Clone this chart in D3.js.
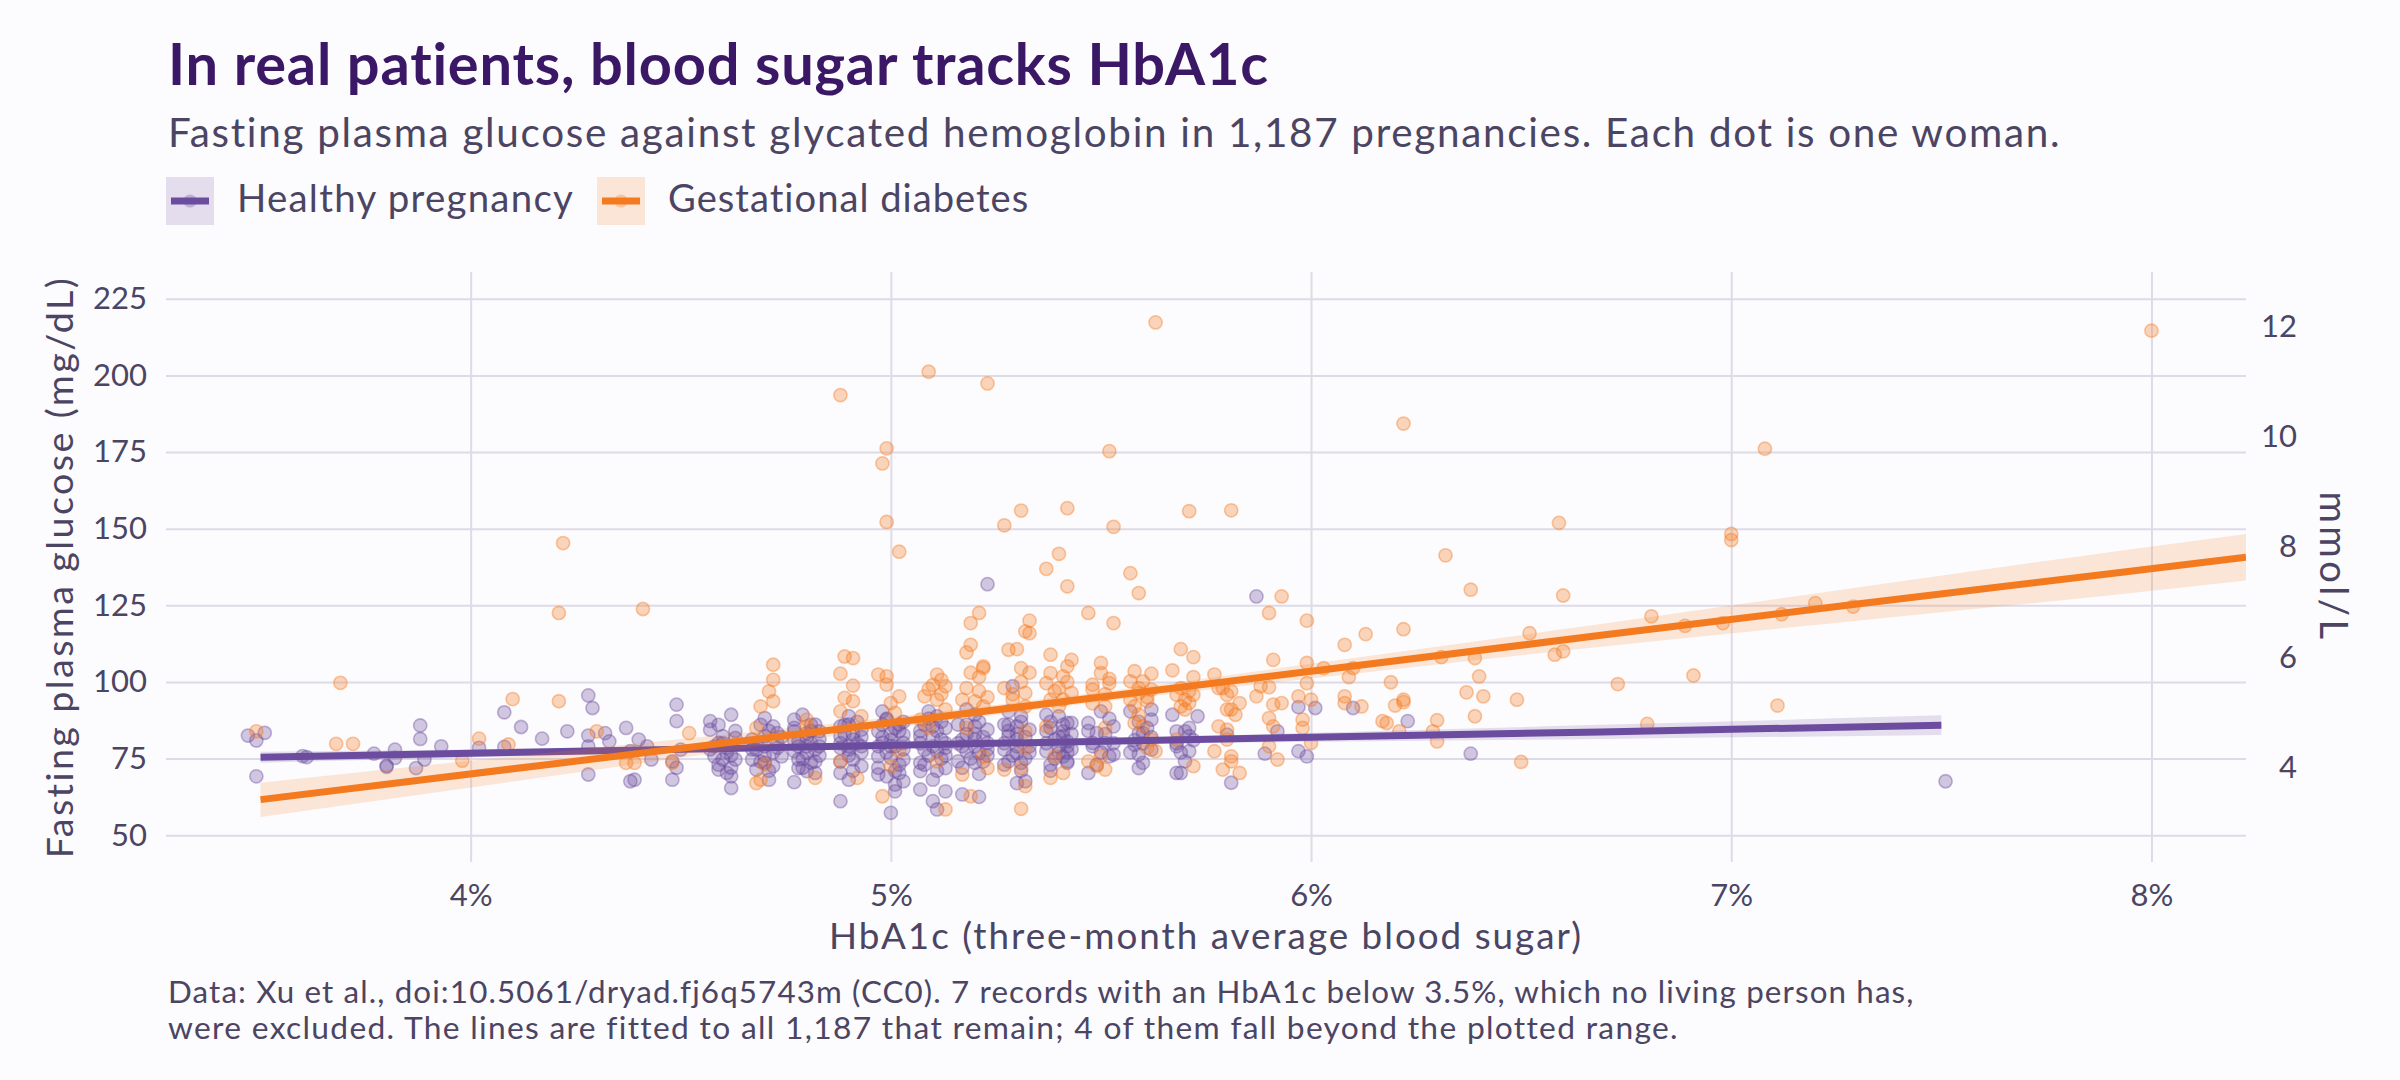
<!DOCTYPE html>
<html>
<head>
<meta charset="utf-8">
<script src="https://cdn.jsdelivr.net/npm/d3@7"></script>
<style>
  body { margin: 0; background: #fcfbfd; }
  svg { display: block; font-family: Lato, "Noto Sans", sans-serif; }
</style>
</head>
<body>
<svg id="chart" width="2400" height="1080"></svg>
<script>
// 1 - Data: [HbA1c %, fasting glucose mg/dL]
const xLimits = [3.5, 8];
const yLimits = [50, 225];
const xTicks = [4, 5, 6, 7, 8];
const yTicks = [50, 75, 100, 125, 150, 175, 200, 225];
const mmolTicks = [4, 6, 8, 10, 12];
const mgPerMmol = 18;

const groups = ["Healthy pregnancy", "Gestational diabetes"];

const healthyPoints = [
  [3.47,82.5],[3.51,83.4],[3.49,80.9],[3.49,69.2],[3.60,75.8],[3.61,75.5],[3.77,76.6],[3.82,77.9],[3.82,75.2],[3.80,72.7],
  [3.80,72.3],[3.88,85.8],[3.88,81.4],[3.89,74.7],[3.87,71.9],[3.93,79.0],[4.02,78.5],[4.08,78.8],[4.08,90.1],[4.12,85.3],[4.17,81.5],
  [4.28,95.6],[4.29,91.5],[4.23,83.9],[4.28,82.5],[4.32,83.3],[4.33,80.6],[4.28,79.0],[4.28,69.8],[4.37,85.0],[4.40,81.2],
  [4.43,74.7],[4.38,67.6],[4.39,68.1],[4.38,77.4],[4.42,79.0],[4.49,92.6],[4.49,87.2],[4.48,74.1],[4.49,72.0],[4.48,68.1],[4.50,77.9],
  [4.57,87.2],[4.62,89.3],[4.57,84.4],[4.60,82.3],[4.63,81.7],[4.59,80.1],[4.61,78.5],[4.58,75.7],[4.60,74.7],[4.63,74.7],
  [4.59,71.4],[4.61,70.3],[4.62,69.2],[4.62,65.4],[4.59,73.0],
  [4.70,88.2],[4.72,85.5],[4.67,81.2],[4.70,82.3],[4.73,83.3],[4.68,77.9],[4.70,79.0],[4.73,78.5],[4.67,74.7],[4.70,73.6],
  [4.72,72.5],[4.68,71.4],[4.71,68.1],[4.74,75.7],
  [4.77,87.7],[4.79,89.3],[4.82,86.1],[4.77,83.9],[4.80,83.3],[4.83,83.9],[4.78,80.6],[4.81,80.1],[4.83,81.2],[4.77,77.4],
  [4.80,76.8],[4.82,77.9],[4.78,74.7],[4.81,73.6],[4.78,71.9],[4.80,70.9],[4.82,70.3],[4.77,67.3],
  [4.90,88.8],[4.88,85.5],[4.90,86.1],[4.93,84.4],[4.88,82.3],[4.91,81.2],[4.88,78.5],[4.90,77.9],[4.93,79.0],[4.91,74.7],
  [4.93,72.5],[4.88,70.3],[4.90,68.1],[4.88,61.1],
  [4.98,90.4],[4.99,87.7],[5.02,86.1],[4.97,83.9],[5.00,83.3],[5.03,82.8],[4.98,80.1],[5.01,79.0],[5.03,80.1],[4.97,75.7],
  [5.00,75.2],[5.03,74.7],[4.97,69.8],[4.99,69.2],[5.02,70.3],[5.01,66.5],[5.03,67.6],[5.01,64.3],[5.00,57.3],
  [5.09,90.4],[5.11,88.8],[5.10,85.5],[5.13,85.0],[5.07,82.3],[5.12,81.2],[5.08,77.9],[5.11,77.4],[5.13,78.5],[5.07,73.6],
  [5.13,71.9],[5.07,70.9],[5.10,68.1],[5.07,64.9],[5.13,64.3],[5.10,61.1],[5.11,58.4],
  [5.18,91.0],[5.20,89.3],[5.16,86.1],[5.20,85.5],[5.23,84.4],[5.17,81.2],[5.20,81.2],[5.23,80.1],[5.18,77.4],[5.21,76.8],
  [5.16,74.1],[5.20,73.6],[5.17,63.3],[5.21,62.5],[5.23,131.9],
  [5.29,98.6],[5.28,90.4],[5.31,88.8],[5.27,86.1],[5.30,85.5],[5.33,84.4],[5.28,82.3],[5.30,81.2],[5.27,77.9],[5.30,76.8],
  [5.28,74.1],[5.31,73.6],[5.30,67.0],[5.32,67.6],
  [5.37,89.3],[5.40,88.8],[5.43,86.6],[5.38,85.0],[5.41,83.9],[5.39,81.2],[5.42,80.6],[5.37,77.4],[5.40,76.8],[5.42,74.1],
  [5.38,73.0],[5.42,86.6],[5.41,82.3],[5.42,79.0],[5.41,75.7],[5.42,73.6],
  [5.47,86.6],[5.50,90.4],[5.49,83.3],[5.53,85.5],[5.48,80.1],[5.51,80.1],[5.52,75.7],[5.47,70.3],[5.53,76.3],
  [5.57,90.4],[5.62,91.0],[5.62,87.7],[5.59,83.3],[5.60,83.3],[5.58,79.5],[5.62,77.9],[5.59,76.3],[5.60,73.6],[5.59,71.9],
  [5.67,89.3],[5.73,88.8],[5.68,83.9],[5.70,83.9],[5.71,82.3],[5.68,79.0],[5.71,77.4],[5.70,74.1],[5.68,70.3],[5.69,70.3],
  [5.80,82.8],[5.81,67.1],[5.87,127.9],[5.92,83.9],[5.89,76.6],[5.97,91.8],[6.01,91.5],[5.97,77.4],[5.99,75.7],
  [6.10,91.5],[6.23,87.2],[6.38,76.6],[7.51,67.6],
  // dense cores of the columns
  [4.58,79],[4.61,77],[4.63,84],[4.59,86],[4.62,72],[4.60,80],[4.57,78],[4.62,76],
  [4.68,80],[4.71,84],[4.73,80],[4.69,86],[4.70,76],[4.72,77],[4.67,78],[4.71,71],[4.74,82],[4.69,74],
  [4.78,79],[4.80,82],[4.83,79],[4.77,85],[4.81,86],[4.79,75],[4.82,74],[4.80,79],[4.77,81],[4.83,76],[4.79,72],[4.81,84],
  [4.88,80],[4.91,83],[4.93,77],[4.89,86],[4.92,87],[4.90,76],[4.88,74],[4.92,80],[4.89,83],[4.91,71],[4.93,82],[4.90,79],
  [4.97,79],[5.00,81],[5.03,78],[4.98,86],[5.01,85],[4.99,77],[5.02,73],[4.97,72],[5.00,79],[5.02,84],[4.98,82],[5.01,71],[4.99,88],[5.03,87],
  [5.07,80],[5.10,82],[5.13,80],[5.08,86],[5.11,84],[5.09,76],[5.12,75],[5.08,73],[5.10,79],[5.12,87],[5.07,84],[5.11,71],[5.13,76],[5.09,88],
  [5.17,79],[5.20,83],[5.23,78],[5.18,86],[5.21,87],[5.19,75],[5.22,74],[5.17,72],[5.20,79],[5.22,82],[5.18,83],[5.21,70],[5.16,80],[5.23,76],
  [5.27,80],[5.30,83],[5.33,79],[5.28,86],[5.31,87],[5.29,76],[5.32,75],[5.27,73],[5.30,79],[5.32,82],[5.28,84],[5.31,71],[5.33,77],
  [5.37,80],[5.40,82],[5.43,78],[5.38,87],[5.41,86],[5.39,75],[5.42,77],[5.38,71],[5.40,79],[5.43,83],[5.37,84],
  [5.48,79],[5.51,83],[5.53,80],[5.47,84],[5.50,77],[5.52,88],[5.49,73],
  [5.58,81],[5.61,85],[5.57,77],[5.60,80],[5.62,82],[5.59,87],
  [5.68,80],[5.71,85],[5.69,77],[5.72,81]
];

const gdmPoints = [
  [3.49,83.9],[3.69,99.7],[3.68,79.8],[3.72,79.8],[3.98,74.3],[4.02,81.5],[4.09,79.6],[4.10,94.4],[4.21,93.7],[4.22,145.3],
  [4.21,122.5],[4.41,123.8],[4.30,83.9],[4.37,73.6],[4.39,73.6],[4.52,83.3],[4.48,73.6],
  [4.72,105.6],[4.72,100.7],[4.71,96.9],[4.72,93.7],[4.69,92.0],[4.68,85.0],[4.69,68.1],[4.68,67.0],[4.70,73.0],
  [4.80,87.7],[4.82,68.7],[4.80,85.5],
  [4.89,108.3],[4.91,107.8],[4.88,102.7],[4.91,98.8],[4.89,94.8],[4.91,93.7],[4.88,90.4],[4.93,88.8],[4.88,74.1],[4.92,68.7],[4.88,193.6],
  [4.97,102.4],[4.99,101.8],[4.99,99.1],[5.02,95.3],[5.00,93.1],[5.01,89.9],[5.02,77.4],[5.00,72.5],[4.98,62.7],
  [4.99,176.2],[4.98,171.3],[4.99,152.2],[5.02,142.5],
  [5.11,102.4],[5.12,100.7],[5.09,97.7],[5.13,98.6],[5.11,94.2],[5.08,95.3],[5.13,91.0],[5.07,87.7],[5.09,85.0],[5.11,74.1],
  [5.13,58.4],[5.09,201.2],[5.12,96],[5.10,99],
  [5.19,119.2],[5.19,112.1],[5.18,109.6],[5.22,105.1],[5.22,104.5],[5.21,101.6],[5.18,98.0],[5.17,94.2],[5.20,93.7],[5.22,92.0],
  [5.18,85.0],[5.22,75.7],[5.23,71.9],[5.17,69.8],[5.19,62.7],[5.23,197.4],[5.21,122.5],[5.21,97],[5.19,103],[5.23,95],
  [5.33,120.0],[5.32,116.5],[5.33,115.9],[5.28,110.5],[5.30,110.7],[5.31,104.5],[5.27,98.0],[5.32,96.4],[5.29,94.2],[5.32,92.0],
  [5.32,83.9],[5.32,78.5],[5.27,71.4],[5.31,71.9],[5.32,66.0],[5.31,58.6],[5.27,151.1],[5.31,155.9],[5.31,100],[5.29,96],[5.33,103],
  [5.38,108.9],[5.43,107.2],[5.42,105.1],[5.38,102.9],[5.41,101.8],[5.37,99.6],[5.40,98.0],[5.43,96.4],[5.38,94.2],[5.41,94.2],
  [5.37,85.5],[5.39,75.7],[5.41,70.3],[5.38,68.7],[5.42,156.7],[5.40,141.8],[5.37,136.9],[5.42,131.2],[5.39,97],[5.42,100],[5.40,92],
  [5.47,122.5],[5.53,119.2],[5.50,106.2],[5.48,99.1],[5.50,102.9],[5.52,99.6],[5.48,97.5],[5.51,92.0],[5.51,85.0],[5.50,75.7],
  [5.47,74.1],[5.49,72.5],[5.51,71.4],[5.52,175.3],[5.53,150.6],[5.57,135.5],[5.59,129.0],[5.51,96],[5.48,93],[5.52,101],
  [5.58,103.5],[5.62,102.7],[5.57,100.2],[5.60,100.2],[5.59,96.4],[5.62,97.5],[5.57,94.2],[5.61,93.7],[5.59,89.3],[5.58,86.6],
  [5.60,85.5],[5.62,81.2],[5.61,78.5],[5.63,77.4],[5.63,217.3],[5.59,98],[5.61,95],[5.58,92],
  [5.69,110.7],[5.72,108.1],[5.67,103.8],[5.72,101.6],[5.68,95.8],[5.70,94.2],[5.72,95.8],[5.69,92.0],[5.71,93.1],[5.70,91.0],
  [5.68,81.2],[5.72,72.5],[5.71,155.7],[5.69,98],[5.71,97],
  [5.77,102.4],[5.79,98.0],[5.80,95.8],[5.78,98.0],[5.80,91.0],[5.82,89.3],[5.81,91.0],[5.83,93.1],[5.78,85.5],[5.80,84.4],
  [5.80,81.2],[5.77,77.4],[5.81,75.7],[5.81,74.1],[5.79,71.4],[5.83,70.3],[5.81,156.0],[5.81,97],
  [5.88,98.6],[5.90,98.3],[5.87,95.3],[5.91,92.6],[5.93,93.1],[5.90,88.2],[5.91,85.5],[5.90,79.0],[5.92,74.7],[5.91,107.2],
  [5.90,122.5],[5.93,127.9],
  [5.99,120.0],[5.99,106.2],[5.99,99.6],[5.97,95.3],[6.00,94.2],[5.98,87.7],[5.98,85.0],[6.00,80.1],[6.03,104.5],
  [6.08,112.1],[6.13,115.6],[6.22,117.2],[6.09,101.6],[6.08,95.3],[6.08,93.1],[6.12,92.0],[6.10,104.5],[6.19,99.9],[6.20,92.3],
  [6.22,94.2],[6.22,93.4],[6.17,87.2],[6.18,86.6],[6.21,83.9],[6.29,83.9],[6.30,80.6],[6.30,87.5],[6.31,108.1],[6.39,107.8],
  [6.40,101.8],[6.37,96.6],[6.41,95.3],[6.39,88.8],[6.49,94.2],[6.50,73.9],[6.52,115.9],[6.58,108.9],[6.60,110.0],[6.22,184.3],
  [6.32,141.3],[6.38,130.1],[6.59,151.9],[6.60,128.2],
  [7.08,176.1],[7.00,148.3],[7.00,146.3],[6.81,121.4],[6.89,118.3],[6.98,119.2],[7.12,122.1],[7.20,125.7],[7.29,124.6],
  [6.73,99.3],[6.91,102.1],[7.11,92.3],[6.80,86.3],[8.00,214.6]
];

// fitted lines and their bands, read at a few HbA1c values: [x, fit, low, high]
const healthyFit = [[3.5,75.4,73.6,77.2],[5.1,79.6,78.9,80.3],[6.69,83.7,81.4,86.0],[7.5,85.9,82.7,89.1]];
const gdmFit = [[3.5,61.6,55.9,67.1],[4.21,73.5,69.6,77.3],[5.0,86.7,84.9,88.5],[5.5,95.1,93.5,96.7],[6.0,103.5,101.1,105.9],
                [6.69,115.2,111.5,118.9],[7.3,125.4,120.0,130.8],[7.93,135.8,128.7,142.9],[8.225,140.7,133.1,148.3]];

// 2 - Layout
const W = 2400, H = 1080;
const margin = { top: 272, right: 154, bottom: 218, left: 166 };
const colors = ["#6b4c9e", "#f47a20"];
const textColor = "#4b4563";

const svg = d3.select("#chart");
svg.append("rect").attr("width", W).attr("height", H).attr("fill", "#fcfbfd");

const pad = (lim) => { const r = lim[1] - lim[0]; return [lim[0] - 0.05 * r, lim[1] + 0.05 * r]; };
const x = d3.scaleLinear().domain(pad(xLimits)).range([margin.left, W - margin.right]);
const y = d3.scaleLinear().domain(pad(yLimits)).range([H - margin.bottom, margin.top]);

// bring a text to the width it takes in the reference:
// half by a slightly bigger font, the rest by letter spacing
function fitWidth(sel, target) {
  const fs = parseFloat(sel.attr("font-size"));
  const w0 = sel.node().getComputedTextLength();
  sel.attr("font-size", (fs * Math.sqrt(target / w0)).toFixed(2));
  const w1 = sel.node().getComputedTextLength();
  sel.attr("letter-spacing", ((target - w1) / sel.text().length).toFixed(2));
}

// 3 - Grid
const grid = svg.append("g");
grid.append("g")
  .attr("transform", `translate(${margin.left},0)`)
  .call(d3.axisLeft(y).tickValues(yTicks).tickSize(-(W - margin.left - margin.right)).tickFormat(""))
  .call(g => g.select(".domain").remove());
grid.append("g")
  .attr("transform", `translate(0,${H - margin.bottom})`)
  .call(d3.axisBottom(x).tickValues(xTicks).tickSize(-(H - margin.top - margin.bottom)).tickFormat(""))
  .call(g => g.select(".domain").remove());
grid.selectAll("line").attr("stroke", "#dedbe7").attr("stroke-width", 2);

// 4 - Points
svg.append("clipPath").attr("id", "panel").append("rect")
  .attr("x", margin.left).attr("y", margin.top)
  .attr("width", W - margin.left - margin.right).attr("height", H - margin.top - margin.bottom);

const plot = svg.append("g").attr("clip-path", "url(#panel)");

[healthyPoints, gdmPoints].forEach((pts, i) => {
  plot.append("g").selectAll("circle")
    .data(pts)
    .join("circle")
    .attr("cx", d => x(d[0]))
    .attr("cy", d => y(d[1]))
    .attr("r", 6.6)
    .attr("fill", colors[i]).attr("fill-opacity", 0.3)
    .attr("stroke", colors[i]).attr("stroke-opacity", 0.4).attr("stroke-width", 1.6);
});

// 5 - Fitted lines with bands
[healthyFit, gdmFit].forEach((fit, i) => {
  plot.append("path")
    .datum(fit)
    .attr("d", d3.area().x(d => x(d[0])).y0(d => y(d[2])).y1(d => y(d[3])).curve(d3.curveMonotoneX))
    .attr("fill", colors[i]).attr("fill-opacity", 0.17);
  plot.append("path")
    .datum(fit)
    .attr("d", d3.line().x(d => x(d[0])).y(d => y(d[1])))
    .attr("fill", "none").attr("stroke", colors[i]).attr("stroke-width", 7);
});

// 6 - Axes
const axisText = g => {
  g.select(".domain").remove();
  g.selectAll(".tick line").remove();
  g.selectAll("text").attr("fill", textColor).attr("font-size", 31).attr("font-family", "Lato, sans-serif");
};
svg.append("g")
  .attr("transform", `translate(0,${H - margin.bottom})`)
  .call(d3.axisBottom(x).tickValues(xTicks).tickFormat(d => d + "%").tickSize(0).tickPadding(22))
  .call(axisText);
svg.append("g")
  .attr("transform", `translate(${margin.left},0)`)
  .call(d3.axisLeft(y).tickValues(yTicks).tickSize(0).tickPadding(19))
  .call(axisText);
const yRight = d3.scaleLinear().domain(y.domain().map(v => v / mgPerMmol)).range(y.range());
svg.append("g")
  .attr("transform", `translate(${W - margin.right},0)`)
  .call(d3.axisRight(yRight).tickValues(mmolTicks).tickSize(0).tickPadding(51))
  .call(axisText)
  .call(g => g.selectAll("text").attr("text-anchor", "end"));

// axis titles
const xTitle = svg.append("text")
  .attr("x", (margin.left + W - margin.right) / 2).attr("y", 949)
  .attr("text-anchor", "middle").attr("fill", textColor).attr("font-size", 33)
  .text("HbA1c (three-month average blood sugar)");
fitWidth(xTitle, 754);

const midY = (margin.top + H - margin.bottom) / 2;
const yTitle = svg.append("text")
  .attr("transform", `translate(73,${midY}) rotate(-90)`)
  .attr("text-anchor", "middle").attr("fill", textColor).attr("font-size", 33)
  .text("Fasting plasma glucose (mg/dL)");
fitWidth(yTitle, 583);

const rTitle = svg.append("text")
  .attr("transform", `translate(2320,${midY}) rotate(90)`)
  .attr("text-anchor", "middle").attr("fill", textColor).attr("font-size", 33)
  .text("mmol/L");
fitWidth(rTitle, 151);

// 7 - Title, subtitle, legend, caption
const title = svg.append("text")
  .attr("x", 168).attr("y", 85)
  .attr("fill", "#3b1866").attr("font-weight", 700).attr("font-size", 56)
  .text("In real patients, blood sugar tracks HbA1c");
fitWidth(title, 1102);

const subtitle = svg.append("text")
  .attr("x", 168).attr("y", 147)
  .attr("fill", textColor).attr("font-size", 37)
  .text("Fasting plasma glucose against glycated hemoglobin in 1,187 pregnancies. Each dot is one woman.");
fitWidth(subtitle, 1894);

const legendX = [166, 597];
const labelWidths = [337, 362];
const legend = svg.append("g").selectAll("g")
  .data(groups)
  .join("g")
  .attr("transform", (d, i) => `translate(${legendX[i]},177)`);
legend.append("rect")
  .attr("width", 48).attr("height", 48)
  .attr("fill", (d, i) => colors[i]).attr("fill-opacity", 0.17);
legend.append("circle")
  .attr("cx", 24).attr("cy", 24).attr("r", 6.6)
  .attr("fill", (d, i) => colors[i]).attr("fill-opacity", 0.3);
legend.append("line")
  .attr("x1", 5).attr("x2", 43).attr("y1", 24).attr("y2", 24)
  .attr("stroke", (d, i) => colors[i]).attr("stroke-width", 7);
legend.append("text")
  .attr("x", 71).attr("y", 35)
  .attr("fill", textColor).attr("font-size", 36)
  .text(d => d)
  .each(function (d, i) { fitWidth(d3.select(this), labelWidths[i]); });

const captionLines = [
  "Data: Xu et al., doi:10.5061/dryad.fj6q5743m (CC0). 7 records with an HbA1c below 3.5%, which no living person has,",
  "were excluded. The lines are fitted to all 1,187 that remain; 4 of them fall beyond the plotted range."
];
const captionWidths = [1746, 1508];
svg.append("g").selectAll("text")
  .data(captionLines)
  .join("text")
  .attr("x", 168).attr("y", (d, i) => 1003 + i * 35.5)
  .attr("fill", textColor).attr("font-size", 29)
  .text(d => d)
  .each(function (d, i) { fitWidth(d3.select(this), captionWidths[i]); });
</script>
</body>
</html>
